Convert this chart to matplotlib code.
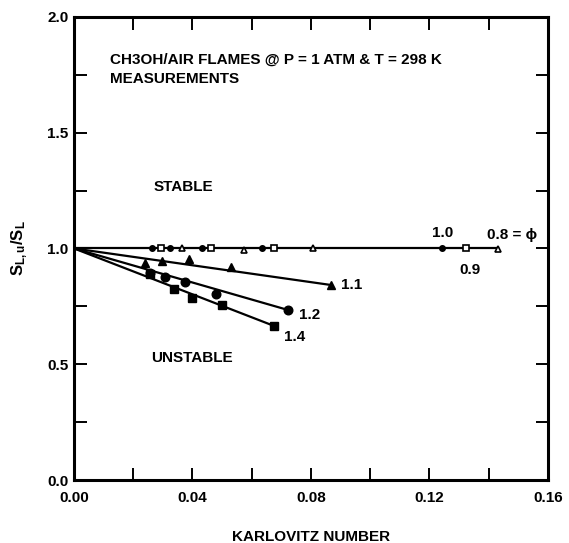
import matplotlib
matplotlib.use("Agg")
import matplotlib.pyplot as plt
from matplotlib.ticker import MultipleLocator

# phi = 1.0, 0.9, 0.8 : stable, stay on S/S_L = 1
ka_10 = [0.0263, 0.0325, 0.0433, 0.0636, 0.1244]
s_10 = [1.0, 1.0, 1.0, 1.0, 1.0]
ka_09 = [0.0295, 0.0461, 0.0676, 0.1323]
s_09 = [1.0, 1.0, 1.0, 1.0]
ka_08 = [0.0365, 0.0574, 0.0806, 0.1433]
s_08 = [1.0, 0.995, 1.0, 0.997]

# phi = 1.1, 1.2, 1.4 : unstable
ka_11 = [0.0241, 0.0297, 0.0387, 0.0529, 0.0868]
s_11 = [0.939, 0.946, 0.953, 0.921, 0.842]
ka_12 = [0.0258, 0.0308, 0.0376, 0.048, 0.0723]
s_12 = [0.893, 0.878, 0.857, 0.802, 0.734]
ka_14 = [0.0258, 0.0337, 0.0399, 0.0501, 0.0676]
s_14 = [0.89, 0.825, 0.788, 0.755, 0.665]

# fitted lines through (0, 1)
fit_stable_x = [0.0, 0.1433]
fit_stable_y = [1.0, 1.0]
fit_11_x = [0.0, 0.0868]
fit_11_y = [1.0, 0.842]
fit_12_x = [0.0, 0.0723]
fit_12_y = [1.0, 0.734]
fit_14_x = [0.0, 0.0676]
fit_14_y = [1.0, 0.665]

plt.rcParams['font.family'] = ['Liberation Sans', 'DejaVu Sans']
plt.rcParams['font.weight'] = 'bold'
plt.rcParams['mathtext.fontset'] = 'custom'
plt.rcParams['mathtext.rm'] = 'Liberation Sans:bold'
plt.rcParams['mathtext.it'] = 'Liberation Sans:bold'

fs = 11

fig = plt.figure(figsize=(5.69, 5.43), dpi=100)
ax = fig.add_axes([0.130, 0.116, 0.833, 0.853])

lw = 1.6
ax.plot(fit_stable_x, fit_stable_y, color='black', lw=lw)
ax.plot(fit_11_x, fit_11_y, color='black', lw=lw)
ax.plot(fit_12_x, fit_12_y, color='black', lw=lw)
ax.plot(fit_14_x, fit_14_y, color='black', lw=lw)

ax.plot(ka_10, s_10, 'o', color='black', ms=4, ls='none')
ax.plot(ka_09, s_09, 's', mfc='white', mec='black', mew=1.2, ms=5, ls='none')
ax.plot(ka_08, s_08, '^', mfc='white', mec='black', mew=1.2, ms=5, ls='none')
ax.plot(ka_11, s_11, '^', color='black', ms=6, ls='none')
ax.plot(ka_12, s_12, 'o', color='black', ms=6.2, ls='none')
ax.plot(ka_14, s_14, 's', color='black', ms=5.5, ls='none')

ax.set_xlim(0, 0.16)
ax.set_ylim(0, 2.0)
ax.xaxis.set_major_locator(MultipleLocator(0.04))
ax.xaxis.set_minor_locator(MultipleLocator(0.02))
ax.yaxis.set_major_locator(MultipleLocator(0.5))
ax.yaxis.set_minor_locator(MultipleLocator(0.25))
ax.xaxis.set_major_formatter(plt.FormatStrFormatter('%.2f'))
ax.yaxis.set_major_formatter(plt.FormatStrFormatter('%.1f'))
ax.tick_params(which='both', direction='in', top=True, right=True,
               length=9, width=1.4, labelsize=fs)
ax.tick_params(axis='x', pad=8)
ax.tick_params(axis='y', pad=4)
for sp in ax.spines.values():
    sp.set_linewidth(2.2)

ax.set_xlabel('KARLOVITZ NUMBER', fontsize=fs, fontweight='bold')
ax.xaxis.set_label_coords(0.5, -0.108)
ax.set_ylabel(r'$\mathrm{S_{L,u}/S_L}$', fontsize=12)
ax.yaxis.set_label_coords(-0.093, 0.5)

ax.text(0.0122, 1.814, 'CH3OH/AIR FLAMES @ P = 1 ATM & T = 298 K',
        fontsize=fs, va='center', ha='left')
ax.text(0.0122, 1.73, 'MEASUREMENTS', fontsize=fs, va='center', ha='left')
ax.text(0.027, 1.266, 'STABLE', fontsize=fs, va='center', ha='left')
ax.text(0.026, 0.527, 'UNSTABLE', fontsize=fs, va='center', ha='left')

ax.text(0.090, 0.84, '1.1', fontsize=fs, va='center', ha='left')
ax.text(0.076, 0.713, '1.2', fontsize=fs, va='center', ha='left')
ax.text(0.071, 0.618, '1.4', fontsize=fs, va='center', ha='left')
ax.text(0.1244, 1.067, '1.0', fontsize=fs, va='center', ha='center')
ax.text(0.1336, 0.907, '0.9', fontsize=fs, va='center', ha='center')
ax.text(0.1478, 1.06, '0.8 = \u03d5', fontsize=fs, va='center', ha='center')

fig.savefig('out.png', dpi=100)
